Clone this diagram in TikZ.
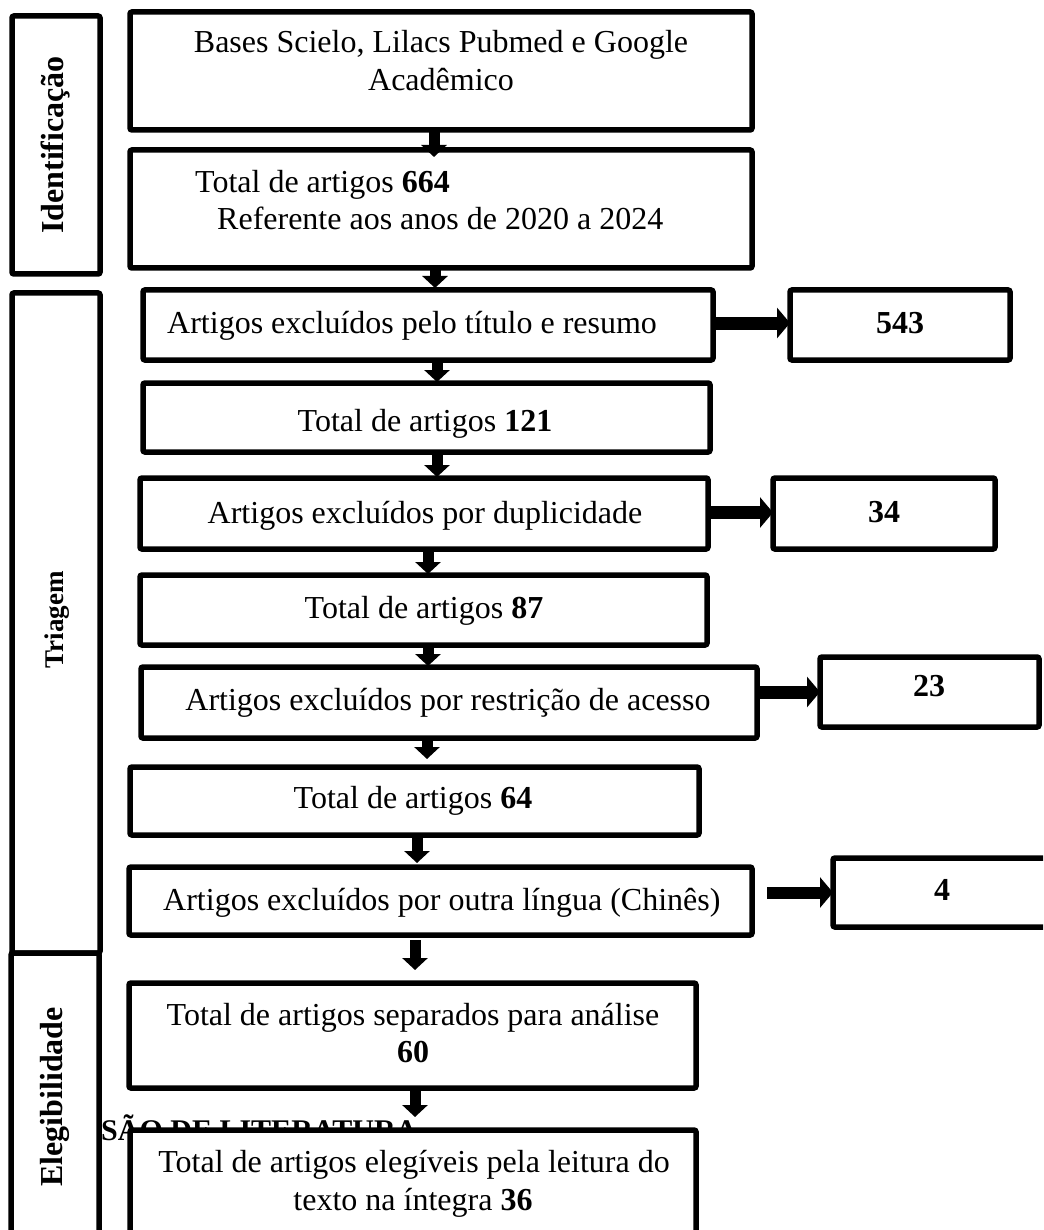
\documentclass[tikz,border=0pt]{standalone}
\usepackage{fontspec}
\setmainfont{Liberation Serif}
\usetikzlibrary{arrows.meta}
\tikzset{
  box/.style={draw, line width=5.5pt, rounded corners=2pt, fill=white, inner sep=0pt, outer sep=0pt},
  txt/.style={font=\fontsize{32}{38}\selectfont, inner sep=0pt, anchor=base},
  txtw/.style={txt, anchor=base west},
  sidelabel/.style={font=\bfseries\fontsize{32}{38}\selectfont, rotate=90, inner sep=0pt},
  varrow/.style={line width=11pt, -{Triangle[width=25pt,length=12pt]}},
  harrow/.style={line width=13pt, -{Triangle[width=30pt,length=13pt]}},
}
\begin{document}
\begin{tikzpicture}[x=1pt,y=-1pt]
\useasboundingbox (0,0) rectangle (1043,1230);
\clip (0,0) rectangle (1043,1230);
\fill[white] (0,0) rectangle (1043,1230);

% side boxes
\node[box, minimum width=88pt, minimum height=258pt] (s1) at (56,145) {};
\node[box, minimum width=88pt, minimum height=660pt] (s2) at (56,623) {};
\node[font=\bfseries\fontsize{30}{36}\selectfont, inner sep=0pt, anchor=base west] (lit) at (101,1140) {SÃO DE LITERATURA};
\node[box, minimum width=88pt, minimum height=310pt] (s3) at (55,1108) {};

\node[sidelabel] (l1) at (56,145) {Identificação};
\node[sidelabel, font=\bfseries\fontsize{27}{32}\selectfont] (l2) at (57,620) {Triagem};
\node[sidelabel] (l3) at (55,1097) {Elegibilidade};

% main boxes
\node[box, minimum width=622pt, minimum height=118pt] (b1) at (441,71) {};
\node[box, minimum width=622pt, minimum height=118pt] (b2) at (441,209) {};
\node[box, minimum width=570pt, minimum height=70pt] (b3) at (428,325) {};
\node[box, minimum width=220pt, minimum height=70pt] (r1) at (900,325) {};
\node[box, minimum width=567pt, minimum height=69pt] (b4) at (426.5,417.5) {};
\node[box, minimum width=568pt, minimum height=71pt] (b5) at (424,513.5) {};
\node[box, minimum width=222pt, minimum height=71pt] (r2) at (884,513.5) {};
\node[box, minimum width=567pt, minimum height=70pt] (b6) at (423.5,610) {};
\node[box, minimum width=616pt, minimum height=71pt] (b7) at (449,702.5) {};
\node[box, minimum width=219pt, minimum height=70pt] (r3) at (929.5,692) {};
\node[box, minimum width=569pt, minimum height=68pt] (b8) at (414.5,801) {};
\node[box, minimum width=623pt, minimum height=68pt] (b9) at (440.5,901) {};
\node[box, minimum width=240pt, minimum height=69pt] (r4) at (953,892.5) {};
\node[box, minimum width=567pt, minimum height=105pt] (b10) at (412.5,1035.5) {};
\node[box, minimum width=566pt, minimum height=130pt] (b11) at (413,1195) {};

% vertical arrows
\draw[varrow, shorten >=-7pt] ([xshift=-7pt]b1.south) -- ([xshift=-7pt]b1.south |- b2.north);
\draw[varrow, shorten >=2pt] ([xshift=-6pt]b2.south) -- ([xshift=-6pt]b2.south |- b3.north);
\draw[varrow, shorten >=1pt] ([xshift=9pt]b3.south) -- ([xshift=9pt]b3.south |- b4.north);
\draw[varrow, shorten >=1pt] ([xshift=10.5pt]b4.south) -- ([xshift=10.5pt]b4.south |- b5.north);
\draw[varrow, shorten >=1pt] ([xshift=4pt]b5.south) -- ([xshift=4pt]b5.south |- b6.north);
\draw[varrow, shorten >=1pt] ([xshift=4.5pt]b6.south) -- ([xshift=4.5pt]b6.south |- b7.north);
\draw[varrow, shorten >=8pt] ([xshift=-22pt]b7.south) -- ([xshift=-22pt]b7.south |- b8.north);
\draw[varrow, shorten >=4pt] ([xshift=2.5pt]b8.south) -- ([xshift=2.5pt]b8.south |- b9.north);
\draw[varrow, shorten <=5pt, shorten >=13pt] ([xshift=-25.5pt]b9.south) -- ([xshift=-25.5pt]b9.south |- b10.north);
\draw[varrow, shorten >=13pt] ([xshift=2.5pt]b10.south) -- ([xshift=2.5pt]b10.south |- b11.north);

% horizontal arrows
\draw[harrow] ([yshift=2pt]b3.east) -- ([yshift=2pt]r1.west);
\draw[harrow] ([yshift=1pt]b5.east) -- ([yshift=1pt]r2.west);
\draw[harrow] (b7.east |- r3.west) -- (r3.west);
\draw[harrow, line width=12pt, shorten <=15pt] (b9.east |- r4.west) -- (r4.west);

% texts
\node[txt] (t1a) at (441,53) {Bases Scielo, Lilacs Pubmed e Google};
\node[txt] (t1b) at (441,91) {Acadêmico};
\node[txtw] (t2a) at (195,193) {Total de artigos \textbf{664}};
\node[txtw] (t2b) at (217,230) {Referente aos anos de 2020 a 2024};
\node[txtw] (t3) at (167,333) {Artigos excluídos pelo título e resumo};
\node[txt] (n1) at (900,333) {\textbf{543}};
\node[txt] (t4) at (425,431) {Total de artigos \textbf{121}};
\node[txt] (t5) at (425,523) {Artigos excluídos por duplicidade};
\node[txt] (n2) at (884,522) {\textbf{34}};
\node[txt] (t6) at (424,618) {Total de artigos \textbf{87}};
\node[txt] (t7) at (448,710) {Artigos excluídos por restrição de acesso};
\node[txt] (n3) at (929,696) {\textbf{23}};
\node[txt] (t8) at (413,808) {Total de artigos \textbf{64}};
\node[txtw] (t9) at (163,910) {Artigos excluídos por outra língua (Chinês)};
\node[txt] (n4) at (942,900) {\textbf{4}};
\node[txt] (t10a) at (413,1025) {Total de artigos separados para análise};
\node[txt] (t10b) at (413,1062) {\textbf{60}};
\node[txt] (t11a) at (414,1172) {Total de artigos elegíveis pela leitura do};
\node[txt] (t11b) at (413,1210) {texto na íntegra \textbf{36}};
\end{tikzpicture}
\end{document}
